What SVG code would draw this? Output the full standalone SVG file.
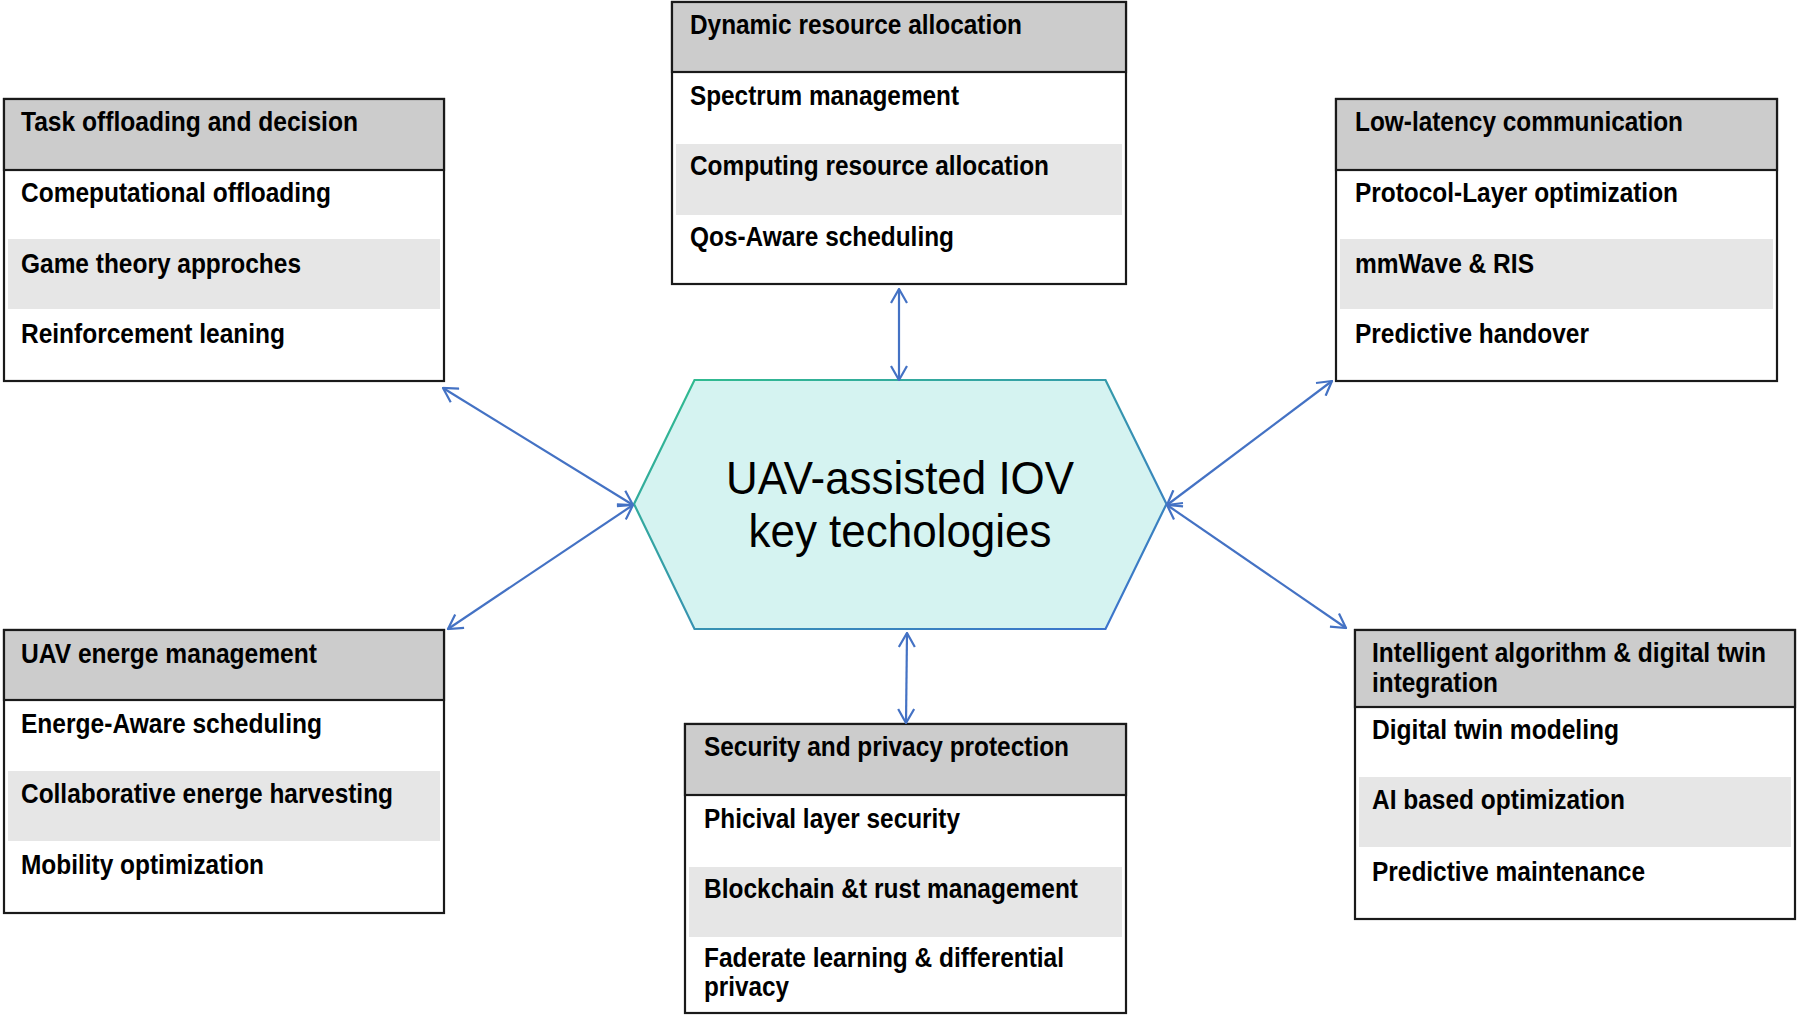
<svg xmlns="http://www.w3.org/2000/svg" width="1800" height="1018" viewBox="0 0 1800 1018">
<style>
.frame{fill:#ffffff;stroke:#1a1a1a;stroke-width:2.2}
.hdr{fill:#cccccc;stroke:#1a1a1a;stroke-width:2.2}
.alt{fill:#e6e6e6}
.t{font-family:"Liberation Sans",Arial,sans-serif;font-size:27px;font-weight:bold;fill:#000}
.c{font-family:"Liberation Sans",Arial,sans-serif;font-size:47px;fill:#000;text-anchor:middle}
.conn{stroke:#4472c4;stroke-width:2.2;fill:none;marker-start:url(#ah);marker-end:url(#ah)}
</style>
<defs>
<marker id="ah" viewBox="0 0 16 18" markerWidth="16" markerHeight="18" refX="15" refY="9" orient="auto-start-reverse" markerUnits="userSpaceOnUse">
<path d="M1,1 L15,9 L1,17" fill="none" stroke="#4472c4" stroke-width="2.2"/>
</marker>
<linearGradient id="hexstroke" x1="0" y1="0" x2="1" y2="1">
<stop offset="0" stop-color="#2fbf8c"/>
<stop offset="1" stop-color="#3d6fd0"/>
</linearGradient>
</defs>
<rect width="1800" height="1018" fill="#ffffff"/>

<g id="center">
<polygon points="634,504 694.5,380 1105.5,380 1166.5,504 1105.5,629 694.5,629" fill="#d5f3f1" stroke="url(#hexstroke)" stroke-width="2.2"/>
<text class="c" x="900" y="494" textLength="348" lengthAdjust="spacingAndGlyphs">UAV-assisted IOV</text>
<text class="c" x="900" y="547" textLength="303" lengthAdjust="spacingAndGlyphs">key techologies</text>
</g>

<g id="task-offloading">
<rect class="frame" x="4" y="99" width="440" height="282"/>
<rect class="alt" x="8" y="239" width="432" height="70"/>
<rect class="hdr" x="4" y="99" width="440" height="71"/>
<text class="t" x="21" y="131" textLength="337" lengthAdjust="spacingAndGlyphs">Task offloading and decision</text>
<text class="t" x="21" y="202" textLength="310" lengthAdjust="spacingAndGlyphs">Comeputational offloading</text>
<text class="t" x="21" y="273" textLength="280" lengthAdjust="spacingAndGlyphs">Game theory approches</text>
<text class="t" x="21" y="343" textLength="264" lengthAdjust="spacingAndGlyphs">Reinforcement leaning</text>
</g>

<g id="dynamic-resource">
<rect class="frame" x="672" y="2" width="454" height="282"/>
<rect class="alt" x="676" y="144" width="446" height="71"/>
<rect class="hdr" x="672" y="2" width="454" height="70"/>
<text class="t" x="690" y="34" textLength="332" lengthAdjust="spacingAndGlyphs">Dynamic resource allocation</text>
<text class="t" x="690" y="105" textLength="269" lengthAdjust="spacingAndGlyphs">Spectrum management</text>
<text class="t" x="690" y="175" textLength="359" lengthAdjust="spacingAndGlyphs">Computing resource allocation</text>
<text class="t" x="690" y="246" textLength="264" lengthAdjust="spacingAndGlyphs">Qos-Aware scheduling</text>
</g>

<g id="low-latency">
<rect class="frame" x="1336" y="99" width="441" height="282"/>
<rect class="alt" x="1340" y="239" width="433" height="70"/>
<rect class="hdr" x="1336" y="99" width="441" height="71"/>
<text class="t" x="1355" y="131" textLength="328" lengthAdjust="spacingAndGlyphs">Low-latency communication</text>
<text class="t" x="1355" y="202" textLength="323" lengthAdjust="spacingAndGlyphs">Protocol-Layer optimization</text>
<text class="t" x="1355" y="273" textLength="179" lengthAdjust="spacingAndGlyphs">mmWave &amp; RIS</text>
<text class="t" x="1355" y="343" textLength="234" lengthAdjust="spacingAndGlyphs">Predictive handover</text>
</g>

<g id="uav-energy">
<rect class="frame" x="4" y="630" width="440" height="283"/>
<rect class="alt" x="8" y="771" width="432" height="70"/>
<rect class="hdr" x="4" y="630" width="440" height="70"/>
<text class="t" x="21" y="663" textLength="296" lengthAdjust="spacingAndGlyphs">UAV energe management</text>
<text class="t" x="21" y="733" textLength="301" lengthAdjust="spacingAndGlyphs">Energe-Aware scheduling</text>
<text class="t" x="21" y="803" textLength="372" lengthAdjust="spacingAndGlyphs">Collaborative energe harvesting</text>
<text class="t" x="21" y="874" textLength="243" lengthAdjust="spacingAndGlyphs">Mobility optimization</text>
</g>

<g id="security-privacy">
<rect class="frame" x="685" y="724" width="441" height="289"/>
<rect class="alt" x="689" y="867" width="433" height="70"/>
<rect class="hdr" x="685" y="724" width="441" height="71"/>
<text class="t" x="704" y="756" textLength="365" lengthAdjust="spacingAndGlyphs">Security and privacy protection</text>
<text class="t" x="704" y="828" textLength="256" lengthAdjust="spacingAndGlyphs">Phicival layer security</text>
<text class="t" x="704" y="898" textLength="374" lengthAdjust="spacingAndGlyphs">Blockchain &amp;t rust management</text>
<text class="t" x="704" y="967" textLength="360" lengthAdjust="spacingAndGlyphs">Faderate learning &amp; differential</text>
<text class="t" x="704" y="996" textLength="85" lengthAdjust="spacingAndGlyphs">privacy</text>
</g>

<g id="intelligent-algorithm">
<rect class="frame" x="1355" y="630" width="440" height="289"/>
<rect class="alt" x="1359" y="777" width="432" height="70"/>
<rect class="hdr" x="1355" y="630" width="440" height="77"/>
<text class="t" transform="translate(1372,662) scale(0.909,1)" x="0" y="0">Intelligent algorithm &amp; digital twin</text>
<text class="t" x="1372" y="692" textLength="126" lengthAdjust="spacingAndGlyphs">integration</text>
<text class="t" x="1372" y="739" textLength="247" lengthAdjust="spacingAndGlyphs">Digital twin modeling</text>
<text class="t" x="1372" y="809" textLength="253" lengthAdjust="spacingAndGlyphs">AI based optimization</text>
<text class="t" x="1372" y="881" textLength="273" lengthAdjust="spacingAndGlyphs">Predictive maintenance</text>
</g>

<g id="connectors">
<line class="conn" x1="899" y1="289" x2="899" y2="380"/>
<line class="conn" x1="907" y1="633" x2="906" y2="723"/>
<line class="conn" x1="443" y1="388" x2="633" y2="505"/>
<line class="conn" x1="448" y1="629" x2="633" y2="505"/>
<line class="conn" x1="1332" y1="381" x2="1167" y2="505"/>
<line class="conn" x1="1346" y1="628" x2="1167" y2="505"/>
</g>
</svg>
